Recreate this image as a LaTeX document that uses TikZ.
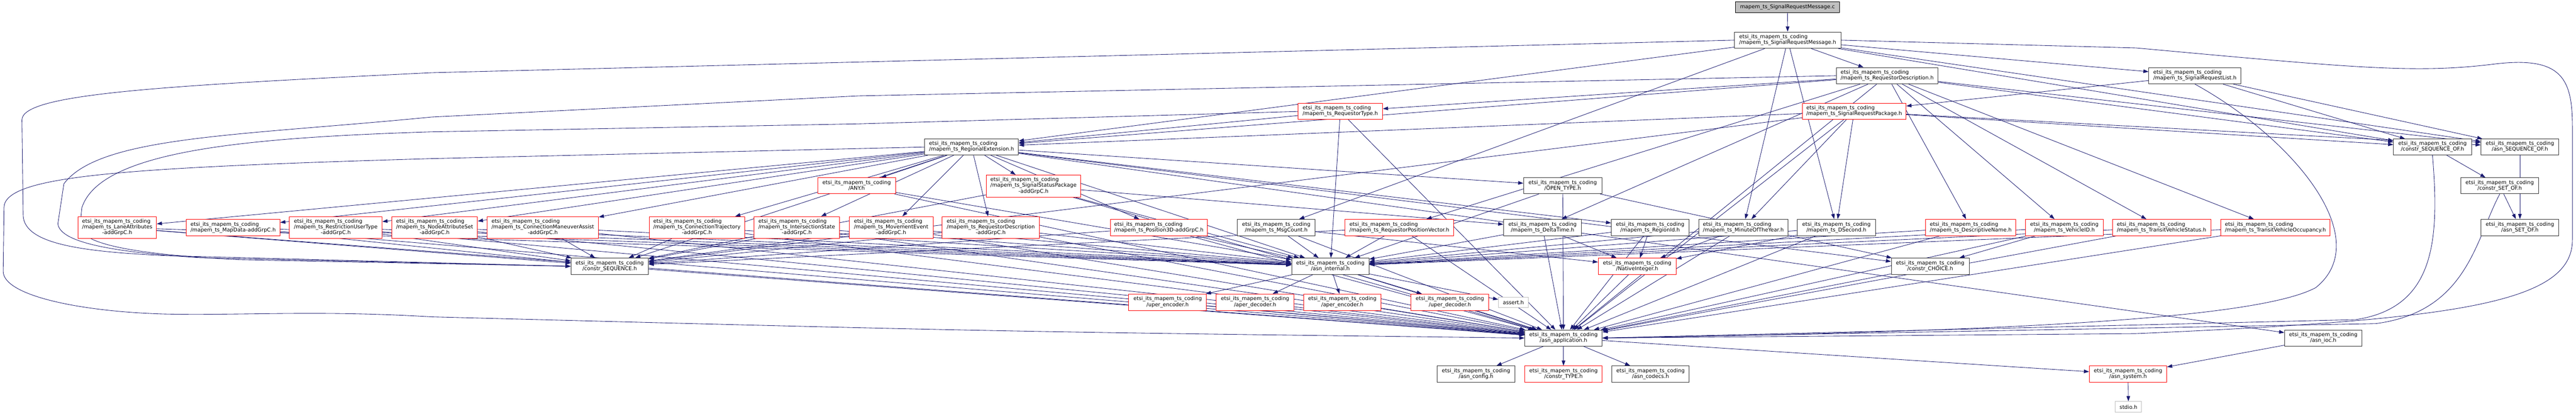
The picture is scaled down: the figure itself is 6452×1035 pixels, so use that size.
\documentclass[tikz,border=0pt]{standalone}
\usepackage{fontspec}
\setmainfont{DejaVu Sans}
\usetikzlibrary{arrows.meta}
\definecolor{edgec}{HTML}{191970}
\definecolor{nodeb}{HTML}{333333}
\definecolor{greyb}{HTML}{BFBFBF}
\pgfdeclarelayer{bg}
\pgfsetlayers{bg,main}
\newcommand{\E}{etsi\_its\_mapem\_ts\_coding}
\newcommand{\twol}[1]{\begin{tabular}{@{}l@{}}\E\\\multicolumn{1}{@{}c@{}}{#1}\end{tabular}}
\newcommand{\threel}[2]{\begin{tabular}{@{}l@{}}\E\\#1\\\multicolumn{1}{@{}c@{}}{#2}\end{tabular}}
\tikzset{
  base/.style={draw, line width=1.2pt, inner xsep=7pt, inner ysep=0pt, fill=white,
    font=\fontsize{13.1}{14.3}\selectfont},
  nb/.style={base, draw=nodeb},
  nr/.style={base, draw=red},
  ng/.style={base, draw=greyb},
  ntop/.style={base, draw=black, fill=greyb},
  e/.style={draw=edgec, line width=1.1pt, -{Triangle[length=13pt,width=9pt]}},
  sz/.style 2 args={minimum width=#1pt, minimum height=#2pt}
}
\begin{document}
\begin{tikzpicture}[x=1pt,y=-1pt]
\useasboundingbox (0,0) rectangle (6452,1035);
% row 0-5
\node[ntop, sz={260}{27}] (n0) at (4477,18.5) {mapem\_ts\_SignalRequestMessage.c};
\node[nb, sz={267}{41}] (srm) at (4477.5,100.5) {\twol{/mapem\_ts\_SignalRequestMessage.h}};
\node[nb, sz={255}{41}] (rd) at (4726.5,189.5) {\twol{/mapem\_ts\_RequestorDescription.h}};
\node[nb, sz={231}{41}] (srl) at (5497.5,189.5) {\twol{/mapem\_ts\_SignalRequestList.h}};
\node[nr, sz={212}{40}] (rt) at (3357,279) {\twol{/mapem\_ts\_RequestorType.h}};
\node[nr, sz={260}{40}] (srp) at (4644,279) {\twol{/mapem\_ts\_SignalRequestPackage.h}};
\node[nb, sz={235}{40}] (regext) at (2433.5,368) {\twol{/mapem\_ts\_RegionalExtension.h}};
\node[nb, sz={195}{40}] (cseqof) at (6092.5,368) {\twol{/constr\_SEQUENCE\_OF.h}};
\node[nb, sz={195}{40}] (aseqof) at (6311.5,368) {\twol{/asn\_SEQUENCE\_OF.h}};
\node[nr, sz={195}{40}] (any) at (2145.5,465) {\twol{/ANY.h}};
\node[nr, sz={235}{55}] (ssp) at (2588.5,465.5) {\threel{/mapem\_ts\_SignalStatusPackage}{-addGrpC.h}};
\node[nb, sz={196}{40}] (otype) at (3914,465) {\twol{/OPEN\_TYPE.h}};
\node[nb, sz={194}{40}] (csetof) at (6261,465) {\twol{/constr\_SET\_OF.h}};
% row 6
\node[nr, sz={197}{55}] (la) at (293.5,569.5) {\threel{/mapem\_ts\_LaneAttributes}{-addGrpC.h}};
\node[nr, sz={234}{41}] (md) at (584,569.5) {\twol{/mapem\_ts\_MapData-addGrpC.h}};
\node[nr, sz={232}{55}] (rut) at (841,569.5) {\threel{/mapem\_ts\_RestrictionUserType}{-addGrpC.h}};
\node[nr, sz={215}{55}] (nas) at (1088.5,569.5) {\threel{/mapem\_ts\_NodeAttributeSet}{-addGrpC.h}};
\node[nr, sz={279}{55}] (cma) at (1359.5,569.5) {\threel{/mapem\_ts\_ConnectionManeuverAssist}{-addGrpC.h}};
\node[nr, sz={239}{55}] (ct) at (1745.5,569.5) {\threel{/mapem\_ts\_ConnectionTrajectory}{-addGrpC.h}};
\node[nr, sz={213}{55}] (is) at (1995.5,569.5) {\threel{/mapem\_ts\_IntersectionState}{-addGrpC.h}};
\node[nr, sz={210}{55}] (me) at (2232,569.5) {\threel{/mapem\_ts\_MovementEvent}{-addGrpC.h}};
\node[nr, sz={243}{55}] (rda) at (2481.5,569.5) {\threel{/mapem\_ts\_RequestorDescription}{-addGrpC.h}};
\node[nr, sz={243}{41}] (p3d) at (2902.5,569.5) {\twol{/mapem\_ts\_Position3D-addGrpC.h}};
\node[nb, sz={195}{41}] (mc) at (3196.5,569.5) {\twol{/mapem\_ts\_MsgCount.h}};
\node[nr, sz={272}{41}] (rpv) at (3505,569.5) {\twol{/mapem\_ts\_RequestorPositionVector.h}};
\node[nb, sz={195}{41}] (dt) at (3863.5,569.5) {\twol{/mapem\_ts\_DeltaTime.h}};
\node[nb, sz={194}{41}] (rid) at (4133,569.5) {\twol{/mapem\_ts\_RegionId.h}};
\node[nb, sz={223}{41}] (moy) at (4366.5,569.5) {\twol{/mapem\_ts\_MinuteOfTheYear.h}};
\node[nb, sz={195}{41}] (ds) at (4599.5,569.5) {\twol{/mapem\_ts\_DSecond.h}};
\node[nr, sz={226}{41}] (dn) at (4936,569.5) {\twol{/mapem\_ts\_DescriptiveName.h}};
\node[nr, sz={195}{41}] (vid) at (5170.5,569.5) {\twol{/mapem\_ts\_VehicleID.h}};
\node[nr, sz={246}{41}] (tvs) at (5414,569.5) {\twol{/mapem\_ts\_TransitVehicleStatus.h}};
\node[nr, sz={274}{41}] (tvo) at (5699,569.5) {\twol{/mapem\_ts\_TransitVehicleOccupancy.h}};
\node[nb, sz={195}{41}] (asetof) at (6311.5,569.5) {\twol{/asn\_SET\_OF.h}};
% row 7
\node[nb, sz={194}{41}] (cseq) at (1527,666.5) {\twol{/constr\_SEQUENCE.h}};
\node[nb, sz={194}{41}] (ai) at (3332,666.5) {\twol{/asn\_internal.h}};
\node[nr, sz={195}{41}] (ni) at (4100.5,666.5) {\twol{/NativeInteger.h}};
\node[nb, sz={195}{41}] (cch) at (4834.5,666.5) {\twol{/constr\_CHOICE.h}};
% row 8
\node[nr, sz={195}{41}] (ue) at (2924.5,756.5) {\twol{/uper\_encoder.h}};
\node[nr, sz={195}{41}] (ad) at (3143.5,756.5) {\twol{/aper\_decoder.h}};
\node[nr, sz={194}{41}] (ae) at (3362,756.5) {\twol{/aper\_encoder.h}};
\node[nr, sz={195}{41}] (ud) at (3631.5,756.5) {\twol{/uper\_decoder.h}};
\node[ng, sz={75}{26}] (assert) at (3790.5,757) {assert.h};
% row 9-11
\node[nb, sz={194}{40}] (aa) at (3916,846) {\twol{/asn\_application.h}};
\node[nb, sz={194}{40}] (ioc) at (5819,846) {\twol{/asn\_ioc.h}};
\node[nb, sz={194}{41}] (acfg) at (3697,936.5) {\twol{/asn\_config.h}};
\node[nr, sz={194}{41}] (ctype) at (3916,936.5) {\twol{/constr\_TYPE.h}};
\node[nb, sz={194}{41}] (acod) at (4134,936.5) {\twol{/asn\_codecs.h}};
\node[nr, sz={194}{41}] (asys) at (5330,936.5) {\twol{/asn\_system.h}};
\node[ng, sz={66}{27}] (stdio) at (5331,1018.5) {stdio.h};
% edges
\begin{pgfonlayer}{bg}
\fill[white] (0,0) rectangle (6452,1035);
\foreach \s/\t in {n0/srm,
  srm/rd, srm/srl, srm/regext, srm/moy, srm/ds, srm/mc, srm/aseqof, srm/cseqof,
  rd/vid, rd/rt, rd/rpv, rd/dn, rd/tvs, rd/tvo, rd/dt, rd/regext, rd/aseqof, rd/cseqof, rd/aa,
  srl/srp, srl/aseqof, srl/cseqof,
  srp/moy, srp/ds, srp/regext, srp/aseqof, srp/cseqof, srp/cseq, srp/aa,
  rt/regext, rt/ai, rt/aa,
  regext/any, regext/ssp, regext/otype, regext/la, regext/md, regext/rut, regext/nas,
  regext/cma, regext/ct, regext/is, regext/me, regext/rda, regext/p3d, regext/rid,
  regext/cseq, regext/cch, regext/ai, regext/ioc,
  aseqof/asetof, csetof/asetof, cseqof/csetof,
  any/ai, any/aa, ssp/dt, ssp/cseq, ssp/ai, ssp/aa, otype/cch, otype/ai, otype/aa,
  rpv/cseq, rpv/ai, rpv/aa,
  dn/ai, dn/aa, vid/cch, vid/ai, vid/aa, tvs/ai, tvs/aa, tvo/ai, tvo/aa,
  cseq/aa, ai/aa, ai/ue, ai/ad, ai/ae, ai/ud, ai/assert,
  ue/aa, ad/aa, ae/aa, ud/aa, ni/aa, cch/aa,
  aa/acfg, aa/ctype, aa/acod, aa/asys, ioc/asys, asys/stdio}
  {\draw[e] (\s) -- (\t);}
\foreach \s in {la,md,rut,nas,cma,ct,is,me,rda,p3d}
  {\foreach \t in {cseq,ai,aa} {\draw[e] (\s) -- (\t);}}
\foreach \s in {mc,dt,rid,moy,ds}
  {\foreach \t in {ni,ai,aa} {\draw[e] (\s) -- (\t);}}
% long routed edges
\draw[e] (srm.west) -- (1080,182) .. controls (400,215) and (55,235) .. (55,300)
  -- (58,540) .. controls (62,610) and (200,630) .. (420,640) -- (cseq.west);
\draw[e] (rd.west) -- (2150,240) -- (1080,293) .. controls (600,340) and (250,340) .. (160,460)
  -- (145,560) .. controls (150,610) and (300,632) .. (500,645) -- (cseq.west);
\draw[e] (rt.west) -- (2150,310) -- (1080,330) .. controls (600,345) and (250,380) .. (205,520)
  -- (200,570) .. controls (210,620) and (400,640) .. (600,650) -- (cseq.west);
\draw[e] (regext.west) -- (1080,397) .. controls (300,420) and (10,440) .. (10,520)
  -- (8,680) .. controls (10,740) and (200,780) .. (413,786)
  .. controls (600,790) and (800,776) .. (1080,793) .. controls (2500,830) .. (aa.west);
\draw[e] (srm.east) -- (5350,120) .. controls (5900,170) and (6050,185) .. (6250,160)
  .. controls (6420,140) and (6443,200) .. (6443,320) -- (6443,600)
  .. controls (6443,760) and (6150,800) .. (5350,835) -- (aa.east);
\draw[e] (srl.south) .. controls (5750,350) and (5950,600) .. (5800,720)
  .. controls (5650,800) and (5000,830) .. (aa.east);
\draw[e] (cseqof.south) .. controls (6110,600) and (6100,770) .. (5900,800) -- (aa.east);
\draw[e] (csetof.south) .. controls (6200,600) and (6180,780) .. (5950,810) -- (aa.east);
\end{pgfonlayer}
\end{tikzpicture}
\end{document}
